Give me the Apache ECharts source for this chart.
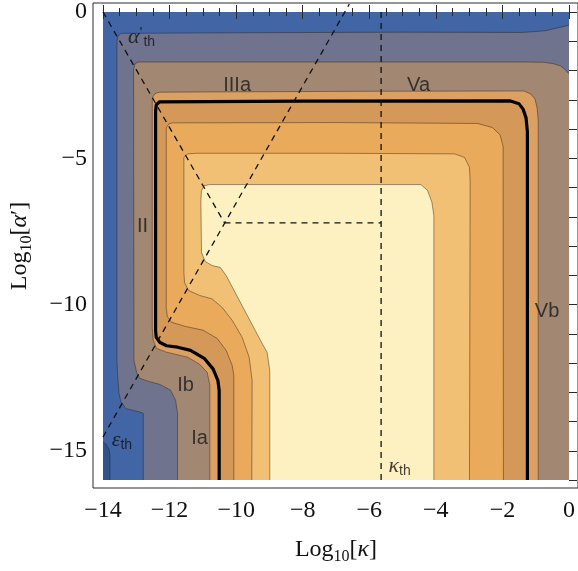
<!DOCTYPE html>
<html>
<head>
<meta charset="utf-8">
<script src="https://cdn.jsdelivr.net/npm/echarts@6/dist/echarts.min.js"></script>
<style>
  html, body { margin: 0; padding: 0; background: #fff; }
  #chart { width: 578px; height: 571px; }
</style>
</head>
<body>
<div id="chart"></div>
<script>
// Axes : Log10[kappa] en x, Log10[alpha'] en y
const kappaRange = [-14, 0];
const alphaRange = [-16, 0];
const kappaTicks = [-14, -12, -10, -8, -6, -4, -2, 0];
const alphaTicks = [-15, -10, -5, 0];

// Contours, [log10 kappa, log10 alpha'], du plus externe au plus interne
const curveNavy = [[-14, -14.70], [-13.91, -14.77], [-13.82, -14.94], [-13.79, -15.18], [-13.79, -16]];
const curveSlate = [[-12.79, -16], [-12.79, -13.72], [-12.91, -13.67], [-13.31, -13.56], [-13.46, -13.33],
  [-13.52, -13.03], [-13.55, -12.59], [-13.58, -12.0], [-13.58, -1.0], [-13.55, -0.83], [-13.46, -0.73],
  [-10, -0.71], [-5, -0.69], [-1.4, -0.70], [-0.7, -0.64], [0, -0.45]];
const curveBrown = [[-11.76, -16], [-11.76, -13.72], [-11.82, -13.27], [-11.97, -12.93], [-12.30, -12.73],
  [-12.66, -12.62], [-12.90, -12.52], [-12.99, -12.32], [-13.07, -11.91], [-13.08, -1.95], [-13.03, -1.76],
  [-12.93, -1.71], [-8, -1.71], [-1.3, -1.71], [-0.76, -1.72], [-0.46, -1.77], [-0.26, -1.84],
  [-0.12, -1.96], [-0.04, -2.07], [0, -2.10]];
const curveOrangeA = [[-10.79, -16], [-10.79, -12.76], [-10.87, -12.32], [-11.10, -12.04], [-11.46, -11.80],
  [-12.09, -11.63], [-12.39, -11.50], [-12.49, -11.22], [-12.52, -10.8], [-12.52, -3.0], [-12.50, -2.90],
  [-12.44, -2.79], [-12.3, -2.74], [-6, -2.71], [-1.35, -2.70], [-1.15, -2.80], [-1.02, -2.98],
  [-0.955, -3.3], [-0.925, -3.72], [-0.925, -16]];
const curveThick = [[-10.51, -16], [-10.51, -12.93], [-10.55, -12.59], [-10.69, -12.21], [-10.96, -11.84],
  [-11.37, -11.57], [-11.76, -11.46], [-12.09, -11.41], [-12.30, -11.29], [-12.40, -11.12], [-12.42, -10.9],
  [-12.42, -3.38], [-12.40, -3.17], [-12.30, -3.07], [-8, -3.05], [-1.76, -3.04], [-1.50, -3.14],
  [-1.38, -3.32], [-1.29, -3.62], [-1.25, -4.1], [-1.25, -16]];
const curveOrangeC = [[-10.07, -16], [-10.07, -12.42], [-10.12, -12.08], [-10.30, -11.57], [-10.57, -11.16],
  [-10.99, -10.88], [-11.52, -10.75], [-11.94, -10.61], [-12.07, -10.40], [-12.10, -10.1], [-12.10, -3.96],
  [-12.02, -3.82], [-11.9, -3.79], [-7, -3.78], [-2.75, -3.81], [-2.3, -3.95], [-2.07, -4.2],
  [-1.98, -4.6], [-1.97, -16]];
const curveOrangeD = [[-9.53, -16], [-9.52, -12.59], [-9.61, -11.80], [-9.82, -11.12], [-10.12, -10.54],
  [-10.42, -10.10], [-10.72, -9.81], [-11.10, -9.69], [-11.43, -9.52], [-11.55, -9.25], [-11.57, -8.9],
  [-11.57, -4.98], [-11.46, -4.85], [-11.2, -4.83], [-7, -4.83], [-3.44, -4.85], [-3.14, -4.97],
  [-2.99, -5.31], [-2.97, -5.77], [-2.99, -16]];
const curveCream = [[-8.99, -16], [-8.99, -12.25], [-9.07, -11.63], [-9.22, -11.33], [-10.30, -9.01],
  [-10.48, -8.73], [-10.72, -8.67], [-10.93, -8.53], [-11.04, -8.22], [-11.06, -6.45], [-11.04, -6.11],
  [-10.96, -5.94], [-10.8, -5.90], [-4.45, -5.90], [-4.25, -6.1], [-4.12, -6.5], [-4.06, -6.96], [-4.06, -16]];

const contourCurves = [curveNavy, curveSlate, curveBrown, curveOrangeA, curveThick, curveOrangeC, curveOrangeD, curveCream];

// Seuils (lignes pointillées)
const alphaThLine = [[-14, 0], [-10.35, -7.21]];
const epsThLine = [[-14, -14.53], [-6.6, 0.27]];
const kappaThLine = [[-5.645, 0], [-5.645, -16]];
const thJoinLine = [[-10.35, -7.21], [-5.645, -7.21]];

// Etiquettes des régions
const regionNames = ['IIIa', 'Va', 'II', 'Vb', 'Ib', 'Ia'];
const regionNamePos = [[-9.97, -2.52], [-4.52, -2.52], [-12.81, -7.34], [-0.66, -10.24], [-11.52, -12.76], [-11.10, -14.57]];
const thresholdSymbols = ['α', 'ε', 'κ'];
const thresholdPrimes = ['\'', '', ''];
const thresholdPos = [[-12.84, -0.85], [-13.43, -14.64], [-5.09, -15.52]];

// --- styles ---
const fillColors = ['#2f548c', '#70738e', '#a28872', '#dba062', '#d49858', '#e9aa5c', '#f1c075', '#fdf0c1'];
const backColor = '#4265a6';
const tickColor = '#2a2a2a';
const serif = 'Liberation Serif';
const sans = 'Liberation Sans';

function minus(v) {
  return v < 0 ? '\u2212' + Math.abs(v) : String(v);
}

// ferme la région par les bords du graphe
function closeRegion(c) {
  const pts = c.slice();
  const last = pts[pts.length - 1];
  if (last[0] === kappaRange[1] && last[1] !== alphaRange[0]) pts.push([kappaRange[1], alphaRange[0]]);
  if (pts[0][0] === kappaRange[0] && pts[0][1] !== alphaRange[0]) pts.push([kappaRange[0], alphaRange[0]]);
  return pts;
}

const nameRich = {
  a: { fontFamily: serif, fontSize: 24, lineHeight: 30, color: '#111' },
  s: { fontFamily: serif, fontSize: 16, lineHeight: 18, verticalAlign: 'bottom', color: '#111' },
  i: { fontFamily: serif, fontSize: 24, lineHeight: 30, fontStyle: 'italic', color: '#111' }
};

const labelRich = {
  g: { fontFamily: serif, fontStyle: 'italic', fontSize: 22, lineHeight: 24, color: '#111' },
  p: { fontFamily: sans, fontSize: 15, lineHeight: 15, verticalAlign: 'top', color: '#111', padding: [0, 1, 0, 0] },
  s: { fontFamily: sans, fontSize: 14, lineHeight: 16, verticalAlign: 'bottom', color: '#111' }
};

function baseAxis(extra) {
  return Object.assign({
    type: 'value',
    gridIndex: 0,
    axisLine: { show: false },
    splitLine: { show: false },
    minorSplitLine: { show: false }
  }, extra);
}

const xCommon = {
  min: kappaRange[0], max: kappaRange[1], interval: kappaTicks[1] - kappaTicks[0], offset: 8,
  axisTick: { inside: true, length: 7, lineStyle: { color: tickColor } },
  minorTick: { show: true, splitNumber: 4, length: 4, lineStyle: { color: tickColor } }
};

const dashed = { color: '#111', width: 1.3, type: [6, 5] };

function lineSeries(data, lineStyle, z, clip) {
  return {
    type: 'line', data: data, showSymbol: false, symbol: 'none', silent: true,
    lineStyle: lineStyle, z: z, clip: clip !== false
  };
}

const chart = echarts.init(document.getElementById('chart'));

chart.setOption({
  animation: false,
  grid: [
    { left: 103, top: 11, width: 469, height: 469, show: true, backgroundColor: backColor, borderWidth: 0 },
    { left: 93, top: 3, width: 487, height: 485, show: true, backgroundColor: 'transparent', borderColor: tickColor, borderWidth: 1 }
  ],
  xAxis: [
    baseAxis(Object.assign({}, xCommon, {
      position: 'bottom',
      axisLabel: { margin: 11, fontFamily: serif, fontSize: 24, color: '#111', formatter: minus },
      name: '{a|Log}{s|10}{a|[}{i|κ}{a|]}',
      nameLocation: 'middle', nameGap: 47,
      nameTextStyle: { rich: nameRich }
    })),
    baseAxis(Object.assign({}, xCommon, { position: 'top', axisLabel: { show: false } }))
  ],
  yAxis: [
    baseAxis({
      position: 'left', min: alphaRange[0], max: alphaRange[1], offset: 10,
      axisTick: { inside: true, length: 7, customValues: alphaTicks, lineStyle: { color: tickColor } },
      axisLabel: { customValues: alphaTicks, margin: 6, fontFamily: serif, fontSize: 24, color: '#111', formatter: minus },
      name: '{a|Log}{s|10}{a|[}{i|α}{a|′]}',
      nameLocation: 'middle', nameRotate: 90, nameGap: 58,
      nameTextStyle: { rich: nameRich }
    }),
    baseAxis({
      position: 'left', min: alphaRange[0], max: alphaRange[1], interval: 1, offset: 10,
      axisTick: { inside: true, length: 4, lineStyle: { color: tickColor } },
      axisLabel: { show: false }
    }),
    baseAxis({
      position: 'right', min: alphaRange[0], max: alphaRange[1], offset: 8,
      axisTick: { inside: true, length: 7, customValues: alphaTicks, lineStyle: { color: tickColor } },
      axisLabel: { show: false }
    }),
    baseAxis({
      position: 'right', min: alphaRange[0], max: alphaRange[1], interval: 1, offset: 8,
      axisTick: { inside: true, length: 4, lineStyle: { color: tickColor } },
      axisLabel: { show: false }
    })
  ],
  series: [
    {
      type: 'custom',
      coordinateSystem: 'cartesian2d',
      silent: true,
      clip: true,
      z: 1,
      dimensions: ['x', 'y', 'idx'],
      encode: { x: 0, y: 1 },
      data: contourCurves.map((c, i) => [c[0][0], c[0][1], i]),
      renderItem: function (params, api) {
        const i = api.value(2);
        const pts = closeRegion(contourCurves[i]).map((p) => api.coord(p));
        return { type: 'polygon', shape: { points: pts }, style: { fill: fillColors[i] } };
      }
    },
    ...contourCurves.map((c) => lineSeries(c, { color: 'rgba(45,32,20,0.5)', width: 0.9 }, 2)),
    lineSeries(curveThick, { color: '#000', width: 3.2 }, 3),
    lineSeries(alphaThLine, dashed, 4),
    lineSeries(epsThLine, dashed, 4, false),
    lineSeries(kappaThLine, dashed, 4),
    lineSeries(thJoinLine, dashed, 4),
    {
      type: 'scatter', silent: true, z: 5, symbolSize: 0,
      data: regionNamePos.map((p, i) => ({ value: p, name: regionNames[i] })),
      label: {
        show: true, position: 'inside', formatter: (d) => d.name,
        fontFamily: sans, fontSize: 20, color: '#1a1a1a'
      }
    },
    {
      type: 'scatter', silent: true, z: 5, symbolSize: 0,
      data: thresholdPos.map((p, i) => ({ value: p, name: thresholdSymbols[i] })),
      label: {
        show: true, position: 'inside',
        formatter: (d) => '{g|' + d.name + '}' + (thresholdPrimes[d.dataIndex] ? '{p|' + thresholdPrimes[d.dataIndex] + '}' : '') + '{s|th}',
        rich: labelRich
      }
    }
  ]
});
</script>
</body>
</html>
